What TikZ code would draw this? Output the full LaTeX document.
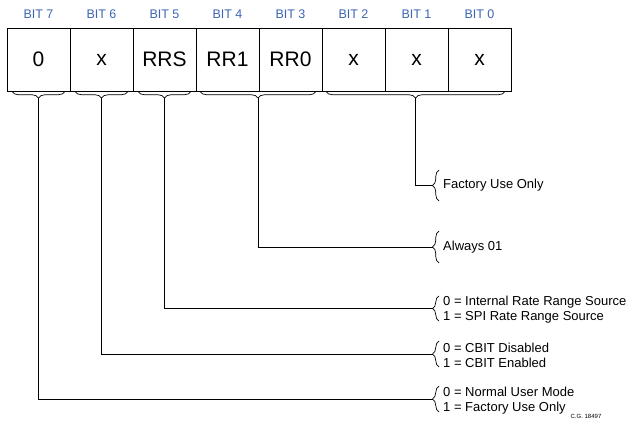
\documentclass[tikz,border=0pt]{standalone}
\usepackage{fontspec}
\setmainfont{Liberation Sans}
\usetikzlibrary{decorations.pathreplacing}
\definecolor{bitblue}{RGB}{60,100,180}
\begin{document}
\begin{tikzpicture}[x=1pt,y=-1pt,
  cell/.style={draw,line width=0.8pt,minimum width=63pt,minimum height=63pt,inner sep=0pt,font=\fontsize{21}{24}\selectfont},
  bitlbl/.style={text=bitblue,inner sep=0pt,font=\fontsize{12.5}{14}\selectfont},
  brc/.style={decorate,line width=0.7pt,decoration={brace,amplitude=6.5pt}},
  brm/.style={decorate,line width=0.7pt,decoration={brace,mirror,amplitude=6.5pt}},
  desc/.style={anchor=west,inner sep=0pt,align=left,font=\fontsize{13}{15}\selectfont},
  conn/.style={line width=0.8pt}]
\useasboundingbox (0,0) rectangle (630,441);
% cells
\foreach \i/\t [count=\k from 0] in {7/0,6/x,5/RRS,4/RR1,3/RR0,2/x,1/x,0/x}{
  \node[cell] (c\i) at (38.5+63*\k,59.5) {\t};
  \node[bitlbl] (b\i) at (38.5+63*\k,14) {BIT \i};
}
% braces under the register
\draw[brm] (12,91.5) -- (65,91.5);
\draw[brm] (75,91.5) -- (128,91.5);
\draw[brm] (138,91.5) -- (191,91.5);
\draw[brm] (200,91.5) -- (316,91.5);
\draw[brm] (326,91.5) -- (505,91.5);
\coordinate (t7) at (38.5,98);
\coordinate (t6) at (101.5,98);
\coordinate (t5) at (164.5,98);
\coordinate (t43) at (258,98);
\coordinate (t20) at (415.5,98);
% braces on the right
\draw[brc] (439,201) -- (439,170);
\draw[brc] (439,263) -- (439,231);
\draw[brc] (439,321) -- (439,296);
\draw[brc] (439,367) -- (439,341);
\draw[brc] (439,412) -- (439,386);
\coordinate (r20) at (432.5,185.5);
\coordinate (r43) at (432.5,247);
\coordinate (r5) at (432.5,308.5);
\coordinate (r6) at (432.5,354);
\coordinate (r7) at (432.5,399);
% descriptions
\node[desc] (d20) at (443,185.5) {Factory Use Only};
\node[desc] (d43) at (443,247) {Always 01};
\node[desc] (d5) at (443,310) {0 = Internal Rate Range Source\\1 = SPI Rate Range Source};
\node[desc] (d6) at (443,355.5) {0 = CBIT Disabled\\1 = CBIT Enabled};
\node[desc] (d7) at (443,400.5) {0 = Normal User Mode\\1 = Factory Use Only};
% connectors
\draw[conn] (t20) |- (r20);
\draw[conn] (t43) |- (r43);
\draw[conn] (t5) |- (r5);
\draw[conn] (t6) |- (r6);
\draw[conn] (t7) |- (r7);
\node[inner sep=0pt,font=\fontsize{6}{7}\selectfont] (cg) at (586,416) {C.G. 18497};
\end{tikzpicture}
\end{document}
